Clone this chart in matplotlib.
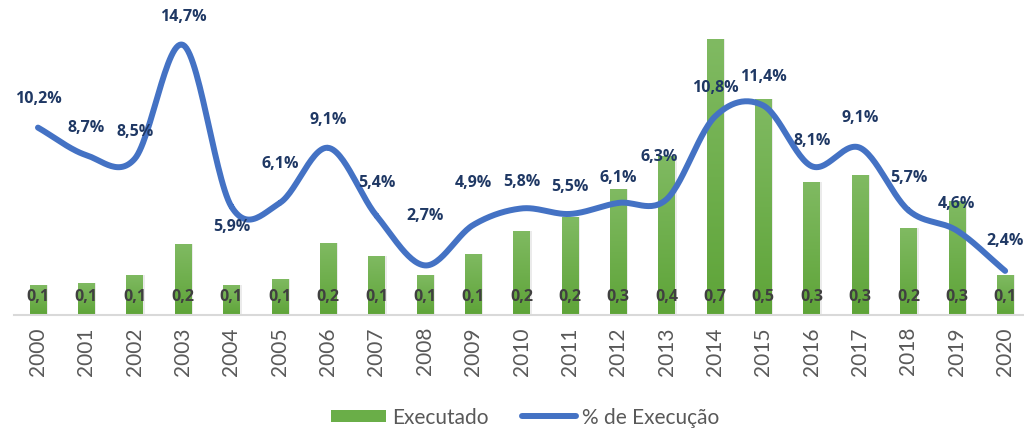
import numpy as np
import matplotlib
matplotlib.use('Agg')
import matplotlib.pyplot as plt
from matplotlib.lines import Line2D
from matplotlib.patches import Patch

plt.rcParams['font.family'] = ['Lato', 'DejaVu Sans']

# data
anos = [str(a) for a in range(2000, 2021)]
executado = [0.073, 0.078, 0.098, 0.173, 0.073, 0.088, 0.176, 0.144, 0.098, 0.149, 0.205,
             0.239, 0.307, 0.388, 0.673, 0.527, 0.324, 0.341, 0.212, 0.278, 0.098]
pct_execucao = [10.2, 8.7, 8.5, 14.7, 5.9, 6.1, 9.1, 5.4, 2.7, 4.9, 5.8,
                5.5, 6.1, 6.3, 10.8, 11.4, 8.1, 9.1, 5.7, 4.6, 2.4]

# label offsets for the % labels (points), Excel-like placement
lbl_dx = [0, 0, 0, 0, 0, 0, 0, 0, 0, 0, 0, 0, 0, -5, 0, 0, 0, 0, 0, 0, 0]
lbl_dy = [21, 20, 20, 21, -14, 29, 21, 24, 36, 31, 20, 20, 19, 31, 21, 21, 19, 22, 24, 20, 22]

VERDE_TOPO = '#80ba62'
VERDE_BASE = '#5ea438'
AZUL = '#4472c4'
NAVY = '#1f3864'
CINZA = '#595959'
BOLD_FONT = ['Open Sans', 'DejaVu Sans']


def catmull_rom(x, y, n=30):
    # smooth curve through all points (similar to Excel "smoothed line")
    x = np.asarray(x, float)
    y = np.asarray(y, float)
    px = np.concatenate([[2 * x[0] - x[1]], x, [2 * x[-1] - x[-2]]])
    py = np.concatenate([[2 * y[0] - y[1]], y, [2 * y[-1] - y[-2]]])
    xs, ys = [], []
    t = np.linspace(0, 1, n)
    for i in range(1, len(px) - 2):
        for p, out in ((px, xs), (py, ys)):
            p0, p1, p2, p3 = p[i - 1], p[i], p[i + 1], p[i + 2]
            out.extend(0.5 * ((2 * p1) + (-p0 + p2) * t +
                              (2 * p0 - 5 * p1 + 4 * p2 - p3) * t ** 2 +
                              (-p0 + 3 * p1 - 3 * p2 + p3) * t ** 3))
    return np.array(xs), np.array(ys)


fig = plt.figure(figsize=(10.24, 4.31), dpi=100)
ax = fig.add_axes([13.8 / 1024, 1 - 316 / 431, 1015.5 / 1024, 316 / 431])
ax2 = ax.twinx()

x = np.arange(len(anos))
largura = 0.34

# gradient bars
grad = np.linspace(0, 1, 256).reshape(-1, 1)
cmap = matplotlib.colors.LinearSegmentedColormap.from_list('g', [VERDE_BASE, VERDE_TOPO])
bars = ax.bar(x, executado, width=largura, color='none', zorder=2)
for b in bars:
    # soft shadow
    ax.bar(b.get_x() + b.get_width() / 2 + 0.04, b.get_height(), width=largura,
           color='#000000', alpha=0.08, zorder=1)
    im = ax.imshow(grad, cmap=cmap, origin='lower', aspect='auto', zorder=2,
                   extent=[b.get_x(), b.get_x() + b.get_width(), 0, b.get_height()])
    im.set_clip_path(b)

for xi, v in zip(x, executado):
    ax.annotate(f'{v:.1f}'.replace('.', ','), (xi, 0), xytext=(0, 14), textcoords='offset points',
                ha='center', va='center', fontsize=11.5, fontweight='bold', color='#404040',
                family=BOLD_FONT, zorder=4)

ax.set_xlim(-0.5, len(anos) - 0.5)
ax.set_ylim(0, 0.771)
ax.set_xticks(x)
ax.set_xticklabels(anos, rotation=90, fontsize=15, color=CINZA)
ax.tick_params(axis='x', length=0, pad=8)
ax.set_yticks([])
for s in ['top', 'right', 'left']:
    ax.spines[s].set_visible(False)
ax.spines['bottom'].set_color('#d9d9d9')
ax.spines['bottom'].set_linewidth(1.5)

# smooth line on secondary axis
sx, sy = catmull_rom(x, pct_execucao)
ax2.plot(sx, sy, color=AZUL, lw=4.3, solid_capstyle='round', zorder=3)
ax2.set_ylim(0, 17.2)
ax2.set_yticks([])
ax2.set_xlim(-0.5, len(anos) - 0.5)
for s in ax2.spines.values():
    s.set_visible(False)

for xi, v, dx, dy in zip(x, pct_execucao, lbl_dx, lbl_dy):
    ax2.annotate(f'{v:.1f}%'.replace('.', ','), (xi, v), xytext=(dx, dy), textcoords='offset points',
                 ha='center', va='center', fontsize=11.5, fontweight='bold', color=NAVY,
                 family=BOLD_FONT)

handles = [Patch(facecolor='#6aae48', edgecolor='none'),
           Line2D([0], [0], color=AZUL, lw=4.3, solid_capstyle='round')]
fig.legend(handles, ['Executado', '% de Execução'], loc='center', bbox_to_anchor=(0.513, 0.03),
           ncol=2, frameon=False, fontsize=15, labelcolor=CINZA, handlelength=2.6,
           handletextpad=0.3, columnspacing=1.6, handleheight=0.5)

fig.savefig('out.png', dpi=100)
